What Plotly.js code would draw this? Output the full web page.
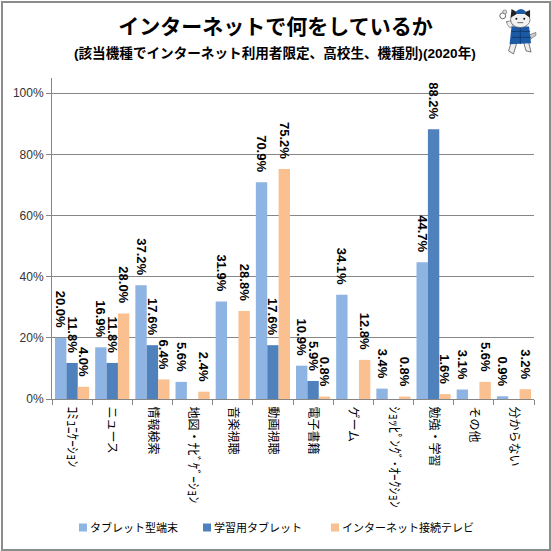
<!DOCTYPE html>
<html><head><meta charset="utf-8">
<script src="https://cdn.plot.ly/plotly-3.0.1.min.js"></script>
<style>
html,body{margin:0;padding:0;background:#fff;overflow:hidden}
#chart{width:551px;height:551px}
#frame{position:absolute;left:1px;top:1px;width:546px;height:546px;border:2px solid #8c8c8c;pointer-events:none}
</style></head><body>
<div id="chart"></div><div id="frame"></div>
<script>
const categories = ['ｺﾐｭﾆｹｰｼｮﾝ','ニュース','情報検索','地図・ﾅﾋﾞｹﾞｰｼｮﾝ','音楽視聴','動画視聴','電子書籍','ゲーム','ｼｮｯﾋﾟﾝｸﾞ･ｵｰｸｼｮﾝ','勉強・学習','その他','分からない'];
const tabletValues = [20.0,16.9,37.2,5.6,31.9,70.9,10.9,34.1,3.4,44.7,3.1,0.9];
const studyTabletValues = [11.8,11.8,17.6,null,null,17.6,5.9,null,null,88.2,null,null];
const tvValues = [4.0,28.0,6.4,2.4,28.8,75.2,0.8,12.8,0.8,1.6,5.6,3.2];
const seriesNames = ['タブレット型端末','学習用タブレット','インターネット接続テレビ'];
const seriesColors = ['#8EB4E3','#4F81BD','#FAC090'];
const yTicks = [0,20,40,60,80,100];
const yTickLabels = ['0%','20%','40%','60%','80%','100%'];

const cjk = '"Liberation Sans","Noto Sans CJK JP",sans-serif';
const mk = (name,y,color)=>({
  type:'bar',name,x:categories,y,marker:{color,line:{width:0}},
  texttemplate:'%{y:.1f}%\u00A0\u00A0',textposition:'outside',textangle:90,constraintext:'none',
  cliponaxis:false,textfont:{family:cjk,size:13,color:'#000',weight:700},hoverinfo:'x+y'
});
const data=[mk(seriesNames[0],tabletValues,seriesColors[0]),mk(seriesNames[1],studyTabletValues,seriesColors[1]),mk(seriesNames[2],tvValues,seriesColors[2])];
const tickText = categories.map(c=>c.replace(/[\uFF61-\uFF9F]+/g,m=>`<span style="font-size:13.5px">${m}</span>`));

const cat = `<svg xmlns="http://www.w3.org/2000/svg" viewBox="0 0 40 48">
<circle cx="5" cy="8" r="3" fill="#fff" stroke="#666" stroke-width="1"/><circle cx="7" cy="4" r="2" fill="#ddd" stroke="#666" stroke-width=".7"/>
<path d="M9 14 l4 2" stroke="#222" stroke-width="1.5"/>
<path d="M31 28 l8 -3 l0 3 l-7 5z" fill="#ccc" stroke="#555" stroke-width=".6"/>
<path d="M14 34 l-3 10 l5 3 l3 -10z M26 34 l3 10 l5 1 l-1 -4 l-2 -8z" fill="#eee" stroke="#555" stroke-width=".8"/>
<path d="M12 20 Q9 17 9 14 l4 -1 l3 6z" fill="#eee" stroke="#555" stroke-width=".6"/>
<path d="M14 19 L32 19 L34 36 L12 37 Z" fill="#1c5aa6"/>
<path d="M14 24h19M14 30h20M23 19v18" stroke="#0d3566" stroke-width=".8"/>
<ellipse cx="23" cy="12" rx="10" ry="8" fill="#f2f2f2" stroke="#555" stroke-width=".7"/>
<path d="M13 10 L14 1 L21 5 Z" fill="#222"/><path d="M33 10 L33 2 L26 5 Z" fill="#222"/>
<path d="M18 4 Q24 -2 29 4 L28 6 L19 6Z" fill="#1c5aa6"/>
<circle cx="19" cy="11" r="1" fill="#111"/><circle cx="27" cy="11" r="1" fill="#111"/><path d="M20 15 h6" stroke="#444" stroke-width=".8"/>
</svg>`;

const layout={
  width:551,height:551,autosize:false,paper_bgcolor:'#fff',plot_bgcolor:'#fff',
  margin:{l:52,r:17,t:78,b:152,pad:0,autoexpand:false},
  font:{family:cjk,color:'#000',size:12},
  barmode:'group',bargap:0.15,bargroupgap:0,showlegend:true,
  title:{text:'インターネットで何をしているか',font:{family:cjk,size:21,color:'#000',weight:700},x:0.5,xanchor:'center',y:0.951,yanchor:'middle'},
  annotations:[{text:'(該当機種でインターネット利用者限定、高校生、機種別)(2020年)',xref:'paper',yref:'paper',x:0.4627,y:1.078,xanchor:'center',yanchor:'middle',showarrow:false,font:{family:cjk,size:13.6,color:'#000',weight:700}}],
  xaxis:{type:'category',categoryorder:'array',categoryarray:categories,tickmode:'array',tickvals:categories,ticktext:tickText,tickangle:90,ticks:'outside',ticklen:5,tickcolor:'#868686',tickson:'boundaries',ticklabelstandoff:4,showline:true,linecolor:'#868686',linewidth:1,showgrid:false,tickfont:{family:cjk,size:12,color:'#000'},automargin:false,fixedrange:true},
  yaxis:{range:[0,105],tickmode:'array',tickvals:yTicks,ticktext:yTickLabels,ticks:'outside',ticklen:5,tickcolor:'#868686',showline:true,linecolor:'#868686',linewidth:1,showgrid:true,gridcolor:'#868686',gridwidth:1,zeroline:false,tickfont:{family:cjk,size:12,color:'#333'},automargin:false,fixedrange:true},
  legend:{orientation:'h',x:0.44,xanchor:'center',y:-0.4,yanchor:'middle',font:{family:cjk,size:11,color:'#000'},itemclick:false,itemdoubleclick:false},
  images:[{source:'data:image/svg+xml;charset=utf-8,'+encodeURIComponent(cat),xref:'paper',yref:'paper',x:0.925,y:1.218,sizex:0.081,sizey:0.146,sizing:'stretch',xanchor:'left',yanchor:'top',layer:'above'}]
};
// Legend text start (page px) for each entry, to tighten the spacing as in the reference
const legendTextStarts=[90,214,342];
Plotly.newPlot('chart',data,layout,{displayModeBar:false,staticPlot:true}).then(gd=>{
  const lg=gd.querySelector('.legend');
  const lx=lg.getCTM().e;
  gd.querySelectorAll('.legend .traces').forEach((t,i)=>{
    const txt=t.querySelector('.legendtext');
    const tx=parseFloat(txt.getAttribute('x'))||40;
    const m=/translate\(([^,]+),\s*([^)]+)\)/.exec(t.getAttribute('transform'));
    const y=m?m[2]:0;
    t.setAttribute('transform',`translate(${legendTextStarts[i]-tx-lx},${y})`);
    t.querySelectorAll('.legendpoints path').forEach(p=>{
      p.setAttribute('transform',`translate(${tx-7},0) scale(0.667)`);
    });
  });
});
</script></body></html>
